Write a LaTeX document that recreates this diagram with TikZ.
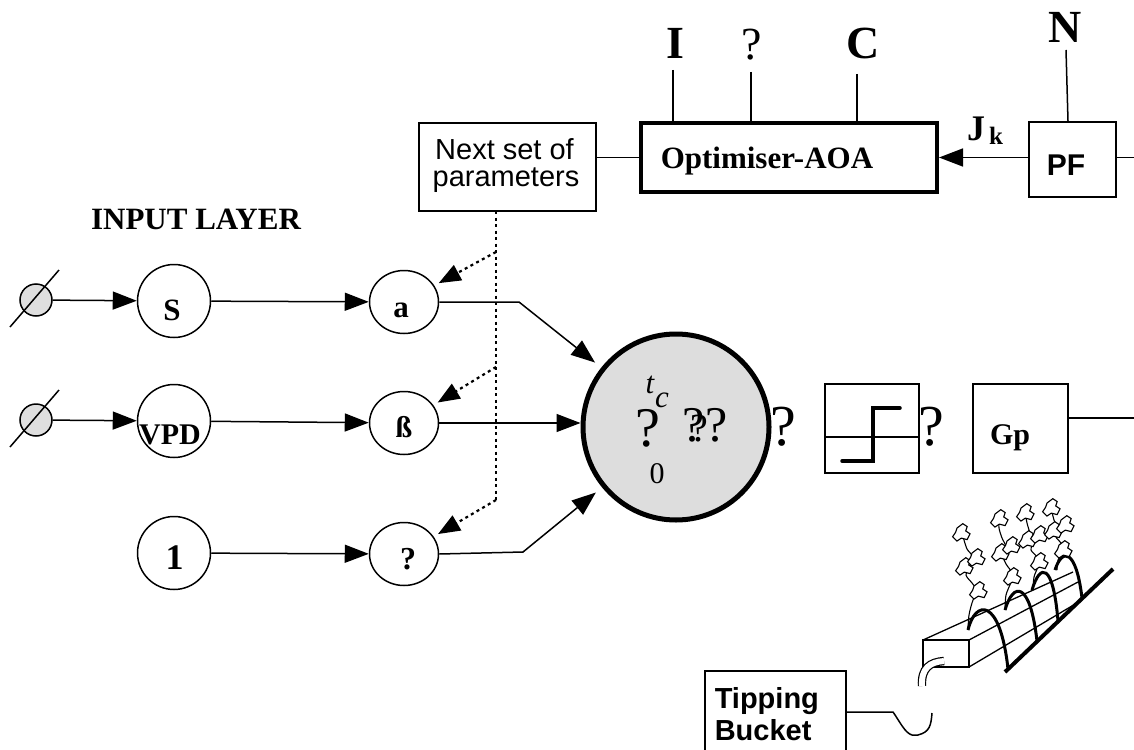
\documentclass[tikz,border=0pt]{standalone}
\usepackage{fontspec}
\setmainfont{Liberation Serif}
\newfontfamily\arialf{Liberation Sans}
\usetikzlibrary{arrows.meta,calc,shapes.geometric}
\newcommand{\fsz}[1]{\fontsize{#1}{#1}\selectfont}
\tikzset{
  leafpic/.pic={\draw[line width=1.1pt,fill=white,scale=1.45] (0,0) -- (4,-3) -- (7,-1) -- (6,2) -- (9,4) -- (7,8) -- (3,7) -- (0,9) -- (-3,6) -- (-1,3) -- cycle;},
  stemline/.style={line width=1.1pt}
}
\begin{document}
\begin{tikzpicture}[x=1pt,y=-1pt,line width=1.5pt,
  arr/.style={-{Triangle[length=24pt,width=18pt]}},
  dotl/.style={line width=2.2pt,dash pattern=on 3pt off 3.5pt},
  dotarr/.style={dotl,-{Triangle[length=22pt,width=17pt]},shorten >=5pt},
  bignode/.style={circle,draw,inner sep=0pt,minimum size=73pt},
  smallnode/.style={ellipse,draw,inner sep=0pt,minimum width=69pt,minimum height=63pt},
  srcnode/.style={circle,draw,fill=gray!25,inner sep=0pt,minimum size=32pt},
  boxn/.style={rectangle,draw,inner sep=0pt},
  lbl/.style={inner sep=0pt,anchor=base}]
\useasboundingbox (0,0) rectangle (1134,749);

% ---------- top part ----------
\node[boxn,minimum width=177pt,minimum height=88pt] (Next) at (507.5,167) {};
\node[lbl,font=\arialf\fsz{29}] at (504.5,159) {Next set of};
\node[lbl,font=\arialf\fsz{29}] at (506,186) {parameters};

\node[boxn,line width=4pt,minimum width=296pt,minimum height=69pt] (Opt) at (789,157.5) {};
\node[lbl,anchor=base west,font=\fsz{31}\bfseries] at (660,168) {Optimiser-AOA};

\node[boxn,minimum width=87pt,minimum height=75pt] (PF) at (1072.5,159.5) {};
\node[lbl,font=\arialf\fsz{30}\bfseries] at (1066,175) {PF};

\node[lbl,font=\fsz{46}\bfseries] (lI) at (675,59) {I};
\node[lbl,font=\fsz{46}] (lQ) at (752,60) {?};
\node[lbl,font=\fsz{46}\bfseries] (lC) at (863,59) {C};
\node[lbl,font=\fsz{46}\bfseries] (lN) at (1065,43) {N};
\node[lbl,font=\fsz{36}\bfseries] at (976,140) {J};
\node[lbl,font=\fsz{25}\bfseries] at (996,144) {k};

\coordinate (tI) at (673,70);
\coordinate (tQ) at (751,72);
\coordinate (tC) at (857,74);
\coordinate (tN) at (1066,50);
\draw (tI) -- (tI |- Opt.north);
\draw (tQ) -- (tQ |- Opt.north);
\draw (tC) -- (tC |- Opt.north);
\draw (tN) -- ($(PF.north)+(-4.5,0)$);

\draw (Opt.west -| Next.east) -- (Opt.west);
\draw[arr] (Opt.east -| PF.west) -- (Opt.east);
\coordinate (pfend) at (1134,157.5);
\draw (PF.east |- pfend) -- (pfend);

\node[lbl,font=\fsz{31}\bfseries] at (196,229) {INPUT LAYER};

% ---------- input layer ----------
\node[srcnode] (g1) at (36,300) {};
\node[srcnode] (g2) at (36,420) {};
\draw ($(g1)+(-26,27)$) -- ($(g1)+(23,-30)$);
\draw ($(g2)+(-26,27)$) -- ($(g2)+(23,-30)$);

\node[bignode] (S) at (174,301) {};
\node[bignode] (VPD) at (174,421) {};
\node[bignode] (one) at (174,553) {};
\node[lbl,font=\fsz{31}\bfseries] at (172,320) {S};
\node[lbl,font=\fsz{30}\bfseries] at (170,444) {VPD};
\node[lbl,font=\fsz{36}\bfseries] at (174.5,569) {1};

\node[smallnode] (a) at (404,302) {};
\node[smallnode] (beta) at (404,423) {};
\node[smallnode] (q) at (404,554) {};
\node[lbl,font=\fsz{31}\bfseries] at (401,317) {a};
\node[lbl,font=\fsz{30}\bfseries] at (404,437) {ß};
\node[lbl,font=\fsz{32}\bfseries] at (408,569) {?};

\draw[arr] (g1) -- (S);
\draw[arr] (g2) -- (VPD);
\draw[arr] (S) -- (a);
\draw[arr] (VPD) -- (beta);
\draw[arr] (one) -- (q);

% ---------- big neuron ----------
\node[circle,draw,line width=5pt,fill=gray!27,inner sep=0pt,minimum size=186pt] (big) at (676,427) {};
\node[lbl,font=\fsz{31}\itshape] at (650,393) {t};
\node[lbl,font=\fsz{31}\itshape] at (662,407) {c};
\node[lbl,font=\fsz{56}] at (648,446) {?};
\node[lbl,font=\fsz{50}] at (694,441) {?};
\node[lbl,font=\fsz{40}] at (699,441) {?};
\node[lbl,font=\fsz{50}] at (717,441) {?};
\node[lbl,font=\fsz{30}] at (657,483) {0};

\coordinate (k1) at (519,302);
\coordinate (k3) at (523,552);
\draw[arr,shorten >=8pt] (a.east) -- (k1) -- (big);
\draw[arr] (beta.east) -- (beta.east -| big.west);
\draw[arr,shorten >=8pt] (q.east) -- (k3) -- (big);

% dotted parameter feed
\coordinate (dtop) at (496,211);
\coordinate (b1) at (496,252);
\coordinate (b2) at (496,367);
\coordinate (dbot) at (496,500);
\draw[dotl] (dtop) -- (dbot);
\draw[dotarr] (b1) -- (a);
\draw[dotarr] (b2) -- (beta);
\draw[dotarr] (dbot) -- (q);

% ---------- output chain ----------
\node[lbl,font=\fsz{58}] at (783,445) {?};
\node[boxn,minimum width=94pt,minimum height=89pt] (Step) at (872,428.5) {};
\draw ($(Step.west)+(0,8.5)$) -- ($(Step.east)+(0,8.5)$);
\draw[line width=3.5pt,line cap=round] ($(Step.center)+(-30,32.5)$) -- ++(31,0) -- ++(0,-53) -- ++(27,0);
\node[lbl,font=\fsz{58}] at (931,445) {?};
\node[boxn,minimum width=95pt,minimum height=89pt] (Gp) at (1020.5,428.5) {};
\node[lbl,font=\fsz{30}\bfseries] at (1010,444) {Gp};
\coordinate (gpend) at (1134,418);
\draw (Gp.east |- gpend) -- (gpend);

% ---------- tipping bucket ----------
\node[boxn,minimum width=141pt,minimum height=100pt] (Tip) at (775.5,721) {};
\node[lbl,anchor=base west,font=\arialf\fsz{29}\bfseries] at (714,708) {Tipping};
\node[lbl,anchor=base west,font=\arialf\fsz{29}\bfseries] at (714,740) {Bucket};
\draw ($(Tip.east)+(0,-9)$) -- (893,712) .. controls (900,722) and (905,733) .. (912,735) -- (918,735) .. controls (930,732) and (931,725) .. (932,713);

% ---------- trough with plants ----------
\draw[line width=1.3pt] (923,640) rectangle (969,667);
\draw[line width=1.3pt] (923,640) -- (1073,572);
\draw[line width=1.3pt] (969,640) -- (1078,582);
\draw[line width=1.3pt] (969,667) -- (1082,600);
\draw[line width=4pt] (1005,672) -- (1113,569);
\draw[line width=1.2pt,double=white,double distance=6pt] (944,661) .. controls (930,662) and (921,668) .. (922,686);

% stems
\draw[stemline] plot[smooth] coordinates {(968,630) (969,615) (973,600) (978,592) (972,583) (966,575) (970,566) (972,556) (967,549) (964,540) (962,532)};
\draw[stemline] plot[smooth] coordinates {(1005,610) (1006,595) (1011,582) (1012,573) (1006,564) (1003,556) (1006,547) (1002,538) (999,528) (999,518)};
\draw[stemline] plot[smooth] coordinates {(1033,590) (1034,577) (1038,566) (1037,557) (1031,550) (1033,541) (1030,533) (1027,523) (1025,512)};
\draw[stemline] plot[smooth] coordinates {(1057,570) (1058,560) (1063,552) (1061,543) (1056,537) (1057,528) (1054,520) (1052,512) (1051,505)};

\draw[line width=3pt] (968,630) .. controls (975,600) and (1000,596) .. (1008,669);
\draw[line width=3pt] (1005,610) .. controls (1013,582) and (1030,580) .. (1037,641);
\draw[line width=3pt] (1032,590) .. controls (1040,563) and (1053,562) .. (1058,621);
\draw[line width=3pt] (1055,570) .. controls (1062,548) and (1076,548) .. (1082,598);

% leaves
\foreach \p in {(974,586),(960,562),(972,553),(957,528),
                (1008,572),(996,548),(1007,541),(995,514),
                (1035,557),(1023,535),(1035,530),(1021,508),
                (1059,545),(1049,526),(1061,520),(1047,503)}
  \pic at \p {leafpic};
\end{tikzpicture}
\end{document}
